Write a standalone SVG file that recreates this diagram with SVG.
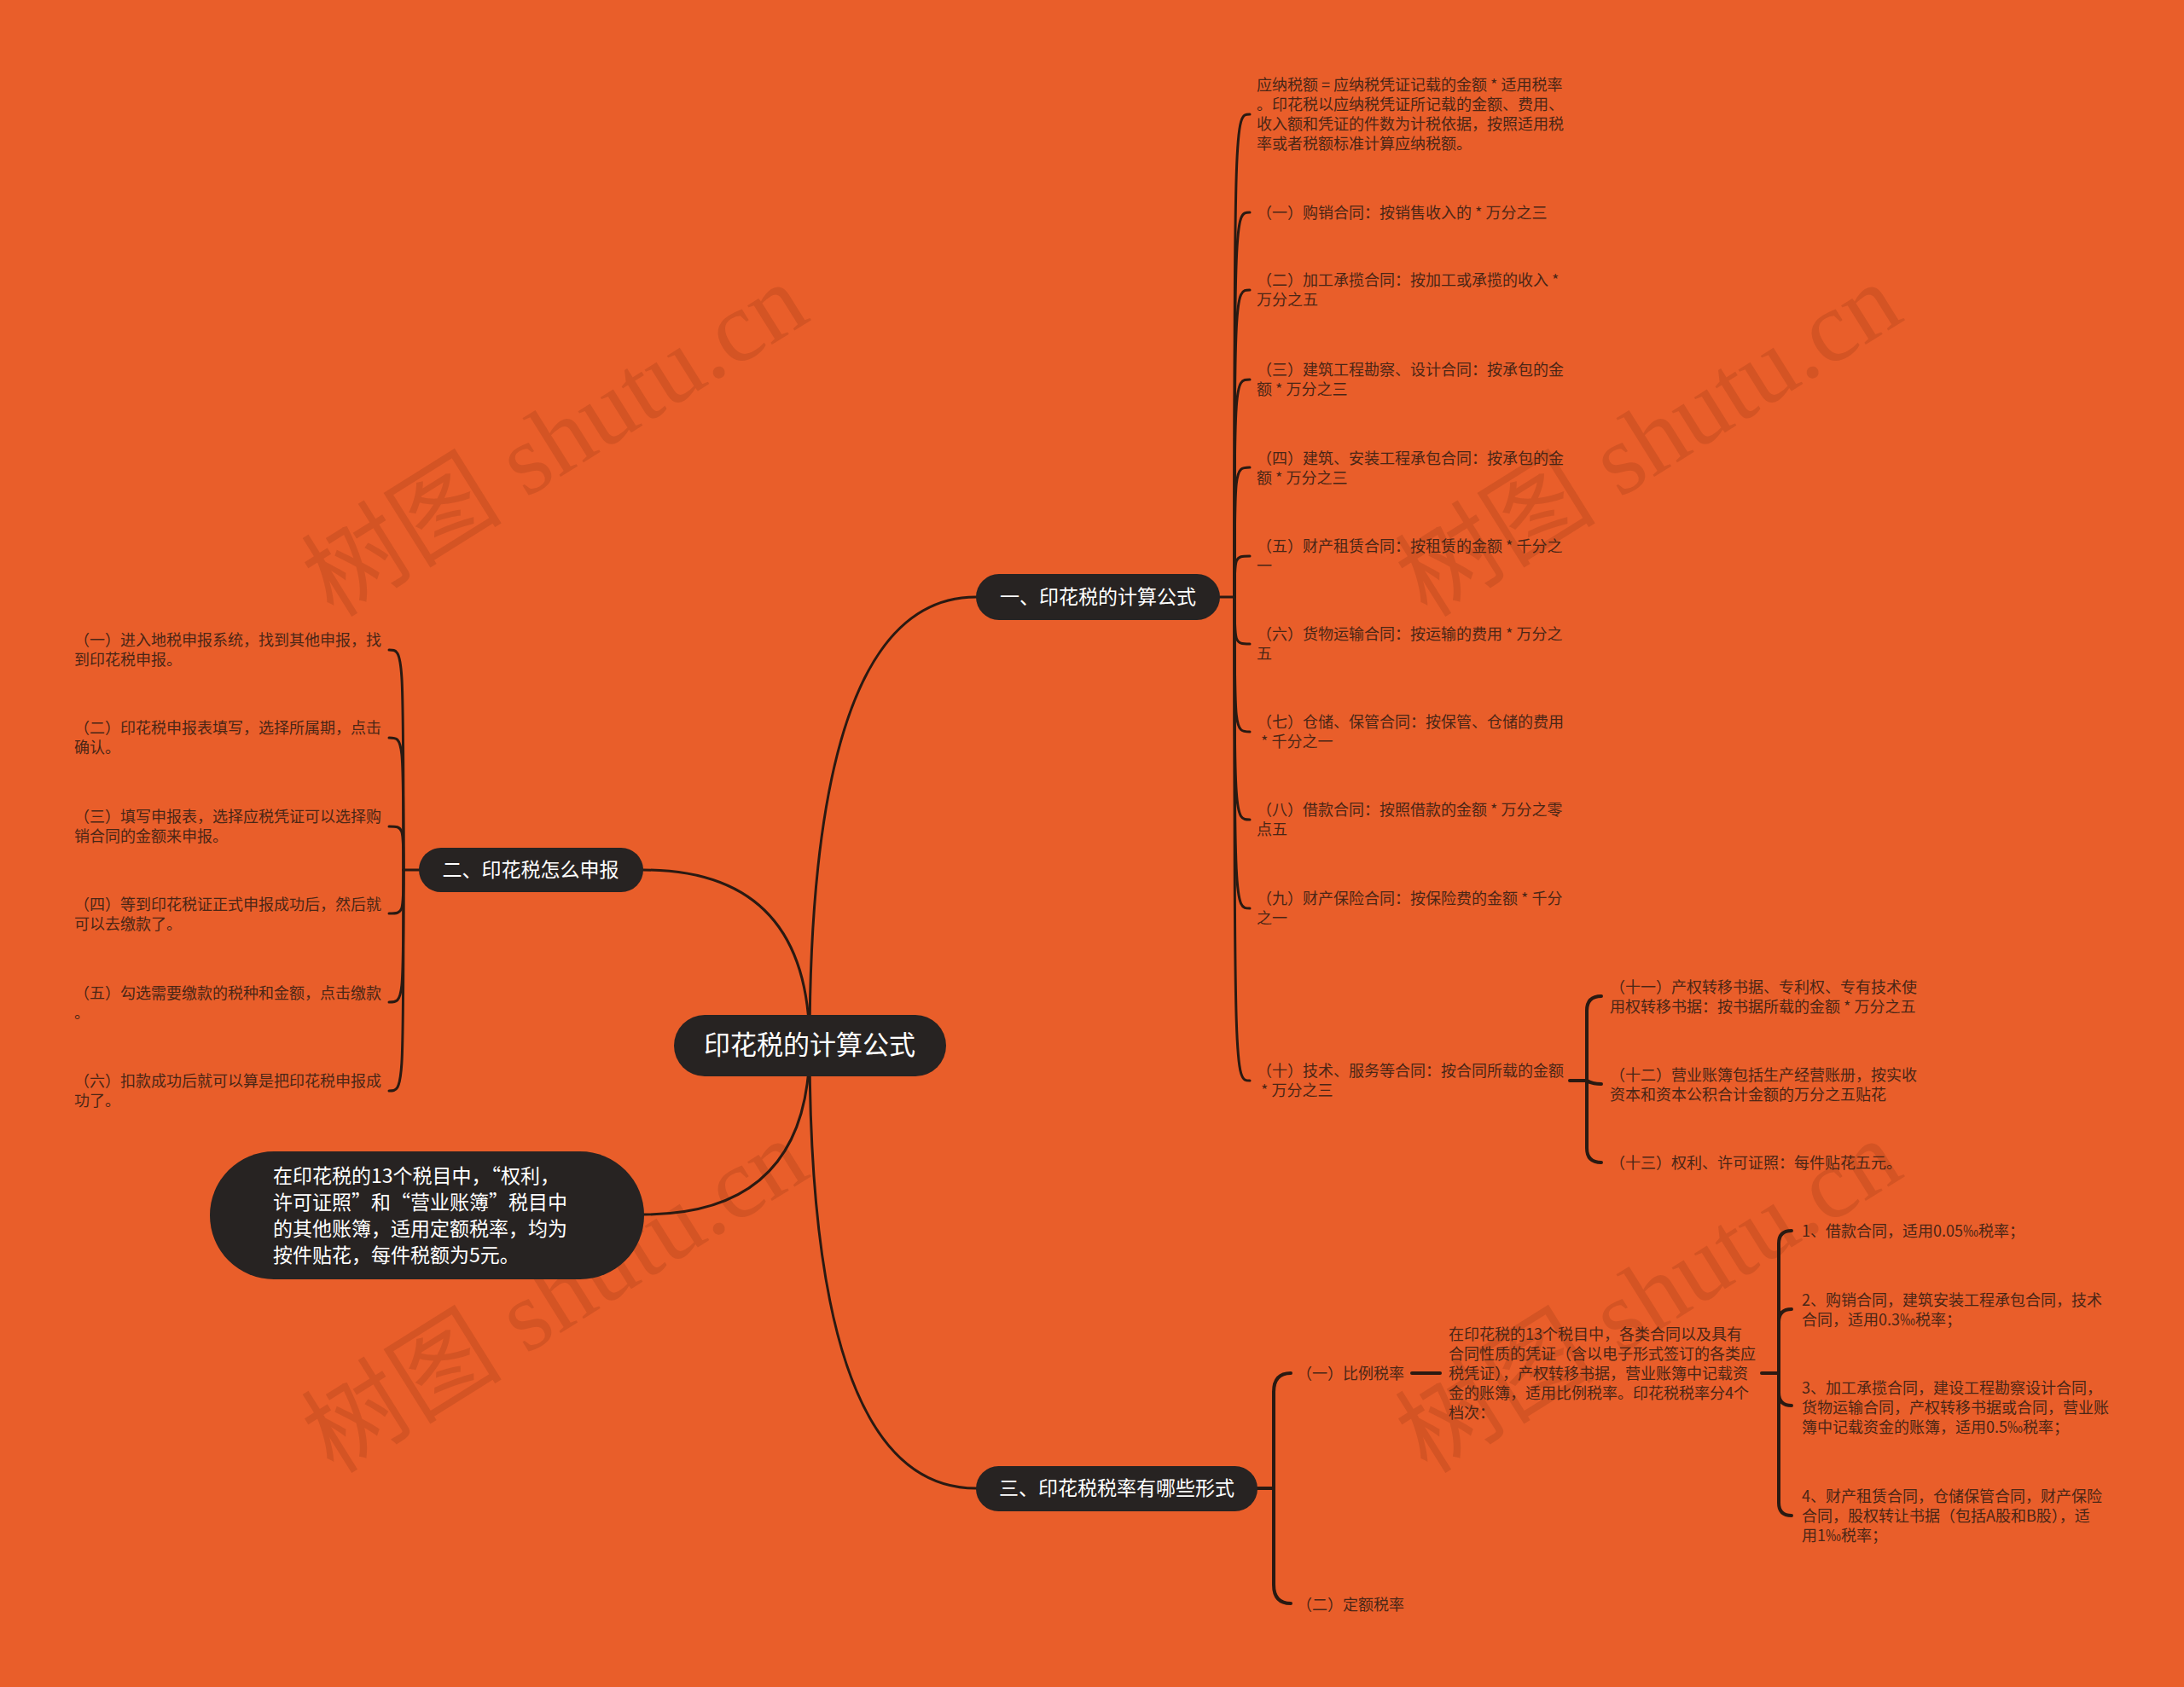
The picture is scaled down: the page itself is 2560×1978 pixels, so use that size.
<svg xmlns="http://www.w3.org/2000/svg" width="2560" height="1978" viewBox="0 0 2560 1978">
<style>
.t{font-family:"Noto Sans CJK SC","Noto Sans",sans-serif;font-size:18px;fill:#4a2616}
.n{fill:#272322}
.nt{font-family:"Noto Sans CJK SC","Noto Sans",sans-serif;font-size:23px;fill:#ffffff}
.c{fill:none;stroke:#2a1a12;stroke-width:3;stroke-linecap:round}
.b{stroke-width:4}
.wm{font-family:"Liberation Serif","Noto Sans CJK SC",serif;font-size:118px;fill:#8a3210;fill-opacity:0.22}
</style>
<rect x="0" y="0" width="2560" height="1978" fill="#E95E2A"/>
<g id="watermarks">
<text class="wm" text-anchor="middle" transform="translate(650,515) rotate(-32)" y="41">树图 shutu.cn</text>
<text class="wm" text-anchor="middle" transform="translate(1932,515) rotate(-32)" y="41">树图 shutu.cn</text>
<text class="wm" text-anchor="middle" transform="translate(650,1519) rotate(-32)" y="41">树图 shutu.cn</text>
<text class="wm" text-anchor="middle" transform="translate(1932,1519) rotate(-32)" y="41">树图 shutu.cn</text>
</g>
<g id="connectors">
<path class="c" d="M949,1226 Q949,700 1144,700"/>
<path class="c" d="M949,1226 Q949,1020 754,1020"/>
<path class="c" d="M949,1226 Q949,1424 754,1424"/>
<path class="c" d="M949,1226 Q949,1745 1144,1745"/>
<path class="c" d="M1430,700 L1447,700"/>
<path class="c" d="M1447,700 C1447,134 1447,134 1465,134"/>
<path class="c" d="M1447,700 C1447,249 1447,249 1465,249"/>
<path class="c" d="M1447,700 C1447,340 1447,340 1465,340"/>
<path class="c" d="M1447,700 C1447,445 1447,445 1465,445"/>
<path class="c" d="M1447,700 C1447,548 1447,548 1465,548"/>
<path class="c" d="M1447,700 C1447,652 1447,652 1465,652"/>
<path class="c" d="M1447,700 C1447,755 1447,755 1465,755"/>
<path class="c" d="M1447,700 C1447,858 1447,858 1465,858"/>
<path class="c" d="M1447,700 C1447,961 1447,961 1465,961"/>
<path class="c" d="M1447,700 C1447,1065 1447,1065 1465,1065"/>
<path class="c" d="M1447,700 C1447,1267 1447,1267 1465,1267"/>
<path class="c" d="M491,1020 L473,1020"/>
<path class="c" d="M473,1020 C473,762 473,762 456,762"/>
<path class="c" d="M473,1020 C473,865 473,865 456,865"/>
<path class="c" d="M473,1020 C473,969 473,969 456,969"/>
<path class="c" d="M473,1020 C473,1071 473,1071 456,1071"/>
<path class="c" d="M473,1020 C473,1175 473,1175 456,1175"/>
<path class="c" d="M473,1020 C473,1279 473,1279 456,1279"/>
<path class="c b" d="M1840,1267 L1860,1267"/>
<path class="c b" d="M1860,1267 L1860,1185 Q1860,1168 1877,1168"/>
<path class="c b" d="M1860,1267 L1860,1346 Q1860,1363 1877,1363"/>
<path class="c b" d="M1860,1267 Q1866,1271 1877,1271"/>
<path class="c b" d="M1474,1745 L1493,1745"/>
<path class="c b" d="M1493,1745 L1493,1632 Q1493,1610 1513,1610"/>
<path class="c b" d="M1493,1745 L1493,1858 Q1493,1880 1513,1880"/>
<path class="c b" d="M1655,1610 L1688,1610"/>
<path class="c b" d="M2065,1610 L2085,1610"/>
<path class="c b" d="M2085,1610 L2085,1458 Q2085,1443 2100,1443"/>
<path class="c b" d="M2085,1610 L2085,1550 Q2085,1535 2100,1535"/>
<path class="c b" d="M2085,1610 L2085,1633 Q2085,1648 2100,1648"/>
<path class="c b" d="M2085,1610 L2085,1762 Q2085,1777 2100,1777"/>
</g>
<g id="root">
<rect class="n" x="790" y="1190" width="319" height="72" rx="36"/>
<text class="nt" style="font-size:31px" x="949" y="1236" text-anchor="middle">印花税的计算公式</text>
</g>
<g id="b1">
<rect class="n" x="1144" y="673" width="286" height="54" rx="27"/>
<text class="nt" x="1287" y="708" text-anchor="middle">一、印花税的计算公式</text>
</g>
<g id="b2">
<rect class="n" x="491" y="994" width="263" height="52" rx="26"/>
<text class="nt" x="622" y="1028" text-anchor="middle">二、印花税怎么申报</text>
</g>
<g id="b3">
<rect class="n" x="1144" y="1719" width="330" height="53" rx="26.5"/>
<text class="nt" x="1309" y="1753" text-anchor="middle">三、印花税税率有哪些形式</text>
</g>
<g id="b4">
<rect class="n" x="246" y="1350" width="509" height="150" rx="75"/>
<text class="nt" x="320" y="1387">在印花税的13个税目中，“权利，</text>
<text class="nt" x="320" y="1418">许可证照”和“营业账簿”税目中</text>
<text class="nt" x="320" y="1449">的其他账簿，适用定额税率，均为</text>
<text class="nt" x="320" y="1480">按件贴花，每件税额为5元。</text>
</g>
<g id="b1c0">
<text class="t" x="1473" y="106">应纳税额 = 应纳税凭证记载的金额 * 适用税率</text>
<text class="t" x="1473" y="129">。印花税以应纳税凭证所记载的金额、费用、</text>
<text class="t" x="1473" y="152">收入额和凭证的件数为计税依据，按照适用税</text>
<text class="t" x="1473" y="175">率或者税额标准计算应纳税额。</text>
</g>
<g id="b1c1"><text class="t" x="1473" y="256">（一）购销合同：按销售收入的 * 万分之三</text></g>
<g id="b1c2"><text class="t" x="1473" y="335">（二）加工承揽合同：按加工或承揽的收入 *</text><text class="t" x="1473" y="358">万分之五</text></g>
<g id="b1c3"><text class="t" x="1473" y="440">（三）建筑工程勘察、设计合同：按承包的金</text><text class="t" x="1473" y="463">额 * 万分之三</text></g>
<g id="b1c4"><text class="t" x="1473" y="544">（四）建筑、安装工程承包合同：按承包的金</text><text class="t" x="1473" y="567">额 * 万分之三</text></g>
<g id="b1c5"><text class="t" x="1473" y="647">（五）财产租赁合同：按租赁的金额 * 千分之</text><text class="t" x="1473" y="670">一</text></g>
<g id="b1c6"><text class="t" x="1473" y="750">（六）货物运输合同：按运输的费用 * 万分之</text><text class="t" x="1473" y="773">五</text></g>
<g id="b1c7"><text class="t" x="1473" y="853">（七）仓储、保管合同：按保管、仓储的费用</text><text class="t" x="1478" y="876">* 千分之一</text></g>
<g id="b1c8"><text class="t" x="1473" y="956">（八）借款合同：按照借款的金额 * 万分之零</text><text class="t" x="1473" y="979">点五</text></g>
<g id="b1c9"><text class="t" x="1473" y="1060">（九）财产保险合同：按保险费的金额 * 千分</text><text class="t" x="1473" y="1083">之一</text></g>
<g id="b1c10"><text class="t" x="1473" y="1262">（十）技术、服务等合同：按合同所载的金额</text><text class="t" x="1478" y="1285">* 万分之三</text></g>
<g id="b1c10a"><text class="t" x="1887" y="1164">（十一）产权转移书据、专利权、专有技术使</text><text class="t" x="1887" y="1187">用权转移书据：按书据所载的金额 * 万分之五</text></g>
<g id="b1c10b"><text class="t" x="1887" y="1267">（十二）营业账簿包括生产经营账册，按实收</text><text class="t" x="1887" y="1290">资本和资本公积合计金额的万分之五贴花</text></g>
<g id="b1c10c"><text class="t" x="1887" y="1370">（十三）权利、许可证照：每件贴花五元。</text></g>
<g id="b2c1"><text class="t" x="87" y="757">（一）进入地税申报系统，找到其他申报，找</text><text class="t" x="87" y="780">到印花税申报。</text></g>
<g id="b2c2"><text class="t" x="87" y="860">（二）印花税申报表填写，选择所属期，点击</text><text class="t" x="87" y="883">确认。</text></g>
<g id="b2c3"><text class="t" x="87" y="964">（三）填写申报表，选择应税凭证可以选择购</text><text class="t" x="87" y="987">销合同的金额来申报。</text></g>
<g id="b2c4"><text class="t" x="87" y="1067">（四）等到印花税证正式申报成功后，然后就</text><text class="t" x="87" y="1090">可以去缴款了。</text></g>
<g id="b2c5"><text class="t" x="87" y="1171">（五）勾选需要缴款的税种和金额，点击缴款</text><text class="t" x="87" y="1194">。</text></g>
<g id="b2c6"><text class="t" x="87" y="1274">（六）扣款成功后就可以算是把印花税申报成</text><text class="t" x="87" y="1297">功了。</text></g>
<g id="b3c1"><text class="t" x="1520" y="1617">（一）比例税率</text></g>
<g id="b3c2"><text class="t" x="1520" y="1888">（二）定额税率</text></g>
<g id="b3c1a">
<text class="t" x="1698" y="1571">在印花税的13个税目中，各类合同以及具有</text>
<text class="t" x="1698" y="1594">合同性质的凭证（含以电子形式签订的各类应</text>
<text class="t" x="1698" y="1617">税凭证），产权转移书据，营业账簿中记载资</text>
<text class="t" x="1698" y="1640">金的账簿，适用比例税率。印花税税率分4个</text>
<text class="t" x="1698" y="1663">档次：</text>
</g>
<g id="r1"><text class="t" x="2112" y="1450">1、借款合同，适用0.05‰税率；</text></g>
<g id="r2"><text class="t" x="2112" y="1531">2、购销合同，建筑安装工程承包合同，技术</text><text class="t" x="2112" y="1554">合同，适用0.3‰税率；</text></g>
<g id="r3"><text class="t" x="2112" y="1634">3、加工承揽合同，建设工程勘察设计合同，</text><text class="t" x="2112" y="1657">货物运输合同，产权转移书据或合同，营业账</text><text class="t" x="2112" y="1680">簿中记载资金的账簿，适用0.5‰税率；</text></g>
<g id="r4"><text class="t" x="2112" y="1761">4、财产租赁合同，仓储保管合同，财产保险</text><text class="t" x="2112" y="1784">合同，股权转让书据（包括A股和B股），适</text><text class="t" x="2112" y="1807">用1‰税率；</text></g>
</svg>
